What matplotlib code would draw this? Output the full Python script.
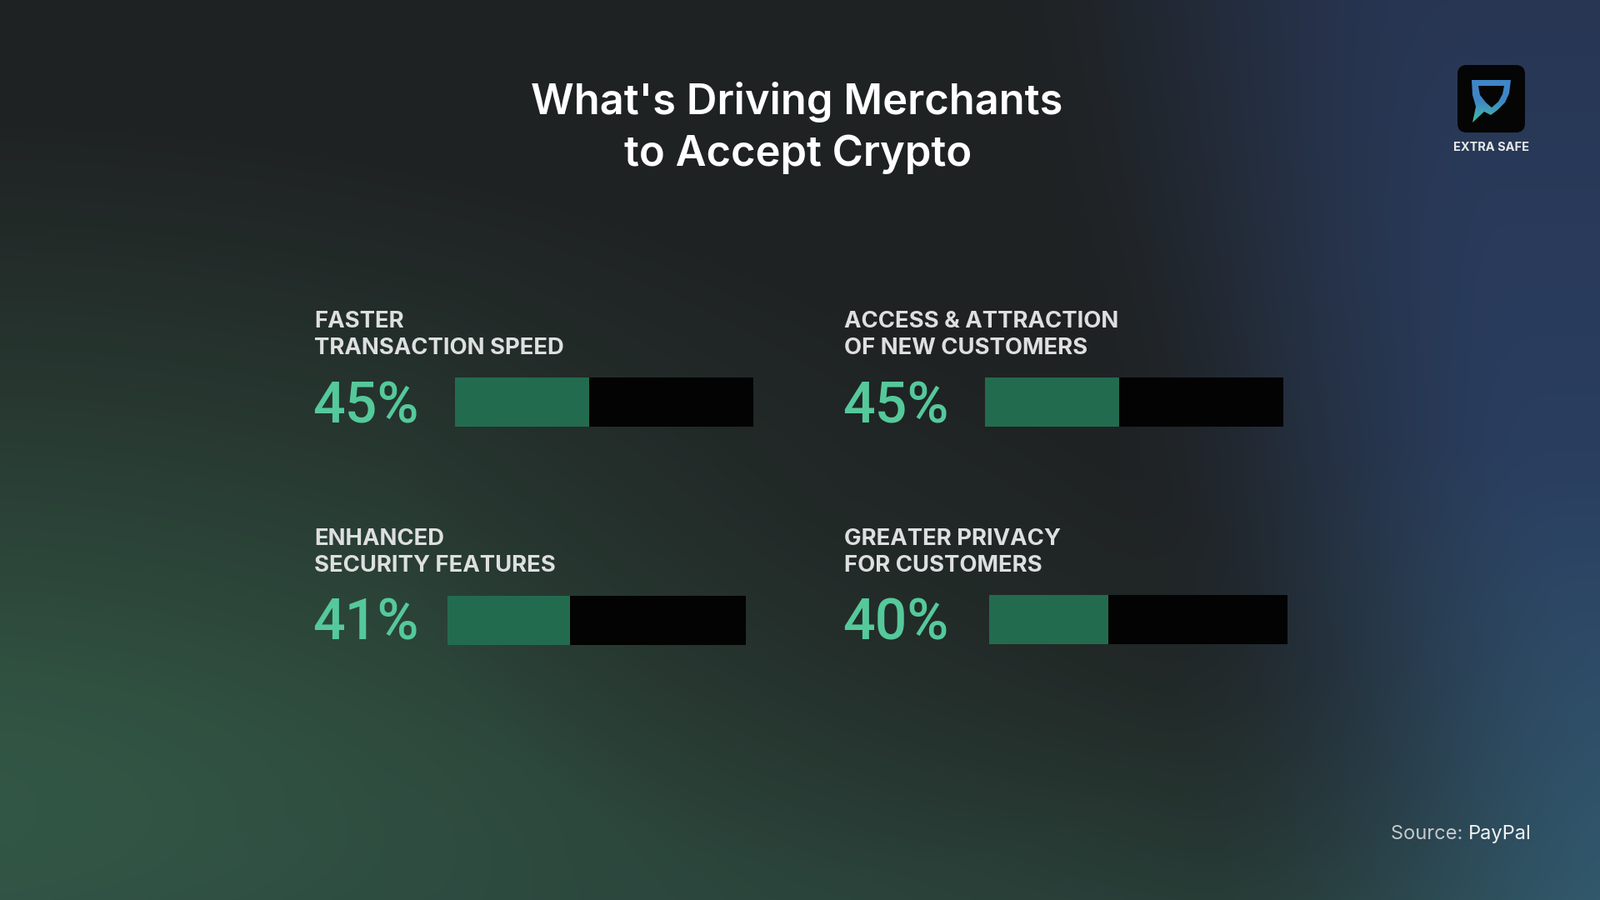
import numpy as np
import matplotlib
matplotlib.use("Agg")
import matplotlib.pyplot as plt
from matplotlib.path import Path
from matplotlib.patches import PathPatch, FancyBboxPatch

# ---------------- data ----------------
title_lines = ["What's Driving Merchants", "to Accept Crypto"]
categories = ["FASTER\nTRANSACTION SPEED",
              "ACCESS & ATTRACTION\nOF NEW CUSTOMERS",
              "ENHANCED\nSECURITY FEATURES",
              "GREATER PRIVACY\nFOR CUSTOMERS"]
values = [45, 45, 41, 40]
scale_max = 100
source_prefix = "Source: "
source_name = "PayPal"
brand = "EXTRA SAFE"

# ---------------- layout (pixels) ----------------
W, H = 1920, 1080
label_x = [377, 1013, 377, 1013]
label_base = [393, 393, 654, 654]
pct_base = [508, 508, 768, 768]
bar_x = [546, 1182, 537, 1187]
bar_y = [453, 453, 715, 714]
bar_w, bar_h = 358, 59

GREEN = "#236b4f"
PCT = "#55c99b"
LABEL = "#dedfe0"

fig = plt.figure(figsize=(19.2, 10.8), dpi=100)
ax = fig.add_axes([0, 0, 1, 1])
ax.set_xlim(0, W)
ax.set_ylim(H, 0)
ax.axis("off")

# ---------------- background gradient ----------------
yy, xx = np.mgrid[0:H, 0:W]
u = xx / W
v = yy / H
base = np.array([31, 34, 35], float)
img = np.ones((H, W, 3)) * base
# green glow bottom-left
dg = np.sqrt(((u + 0.05) / 0.95) ** 2 + ((v - 1.12) / 1.0) ** 2)
wg = np.clip(1 - dg, 0, 1) ** 1.1
green_col = np.array([60, 112, 84], float)
img = img * (1 - wg[..., None]) + green_col * wg[..., None]
# teal band along the bottom
wt = np.clip((v - 0.72) / 0.28, 0, 1) ** 1.5 * 0.6
teal = np.array([44, 72, 64], float)
img = img * (1 - wt[..., None]) + teal * wt[..., None]
# blue on the right
edge = 0.61 + 0.13 * v
wb = np.clip((u - edge) / 0.30, 0, 1)
wb = wb * wb * (3 - 2 * wb)
top_blue = np.array([40, 54, 84], float)
mid_blue = np.array([42, 62, 96], float)
bot_blue = np.array([50, 90, 110], float)
vv = v[..., None]
blue_col = np.where(vv < 0.5,
                    top_blue * (1 - 2 * vv) + mid_blue * (2 * vv),
                    mid_blue * (2 - 2 * vv) + bot_blue * (2 * vv - 1))
img = img * (1 - wb[..., None]) + blue_col * wb[..., None]
# dark swirl in the middle
dc = np.sqrt(((u - 0.53) / 0.28) ** 2 + ((v - 0.55) / 0.42) ** 2)
wd = np.clip(1 - dc, 0, 1) ** 0.8 * 0.45
img = img * (1 - wd[..., None]) + base * wd[..., None]
ax.imshow(img.astype(np.uint8), extent=[0, W, H, 0], aspect="auto", zorder=0)
ax.set_xlim(0, W)
ax.set_ylim(H, 0)

# ---------------- title ----------------
ax.text(956, 137, title_lines[0], ha="center", va="baseline", color="white",
        fontsize=36.5, fontfamily="Inter", fontweight="semibold")
ax.text(958, 199, title_lines[1], ha="center", va="baseline", color="white",
        fontsize=36.5, fontfamily="Inter", fontweight="semibold")

# ---------------- panels ----------------
for i, (cat, val) in enumerate(zip(categories, values)):
    for j, line in enumerate(cat.split("\n")):
        ax.text(label_x[i], label_base[i] + 32 * j, line, ha="left", va="baseline",
                color=LABEL, fontsize=19.8, fontfamily="Inter", fontweight="bold")
    ax.text(label_x[i] - 2, pct_base[i], f"{val}%", ha="left", va="baseline",
            color=PCT, fontsize=49, fontfamily="Roboto", fontweight="medium")
    bax = fig.add_axes([bar_x[i] / W, 1 - (bar_y[i] + bar_h) / H, bar_w / W, bar_h / H])
    bax.barh([0], [scale_max], height=1, color="#030303", edgecolor="none")
    bax.barh([0], [val], height=1, color=GREEN, edgecolor="none")
    bax.set_xlim(0, scale_max)
    bax.set_ylim(-0.5, 0.5)
    bax.axis("off")

# ---------------- source ----------------
t2 = ax.text(1838, 1007, source_name, ha="right", va="baseline", color="#f2f2f2",
             fontsize=17, fontfamily="Inter")
fig.canvas.draw()
r = fig.canvas.get_renderer()
bb = t2.get_window_extent(r)
ax.text(bb.x0, 1007, source_prefix, ha="right", va="baseline", color="#c5cacd",
        fontsize=17, fontfamily="Inter")

# ---------------- logo ----------------
ax.add_patch(FancyBboxPatch((1749, 78), 81, 81, boxstyle="round,pad=0,rounding_size=11",
                            facecolor="#050505", edgecolor="none", zorder=2))
outer = [(1766, 96), (1813, 96), (1811, 112), (1806, 123), (1797, 132), (1789, 138),
         (1781, 134), (1767, 147), (1771, 128), (1767, 114), (1766, 96)]
inner = [(1774, 103), (1805, 103), (1803, 113), (1798, 122), (1790, 129),
         (1783, 123), (1776, 114), (1774, 103)]
op = Path(outer)
gy = np.linspace(0, 1, 60)[:, None] * np.ones((1, 10))
cm = matplotlib.colors.LinearSegmentedColormap.from_list("lg", ["#3f86c8", "#3f86c8", "#44c49a"])
im = ax.imshow(gy, extent=[1764, 1816, 149, 94], cmap=cm, aspect="auto", zorder=3)
pp = PathPatch(op, facecolor="none", edgecolor="none", transform=ax.transData)
ax.add_patch(pp)
im.set_clip_path(pp)
ax.add_patch(PathPatch(Path(inner), facecolor="#050505", edgecolor="none", zorder=4))
ax.text(1789, 181, brand, ha="center", va="baseline", color="#e8e8e8",
        fontsize=10.5, fontfamily="Inter", fontweight="bold", zorder=5)
ax.set_xlim(0, W)
ax.set_ylim(H, 0)

fig.savefig("out.png", dpi=100)
